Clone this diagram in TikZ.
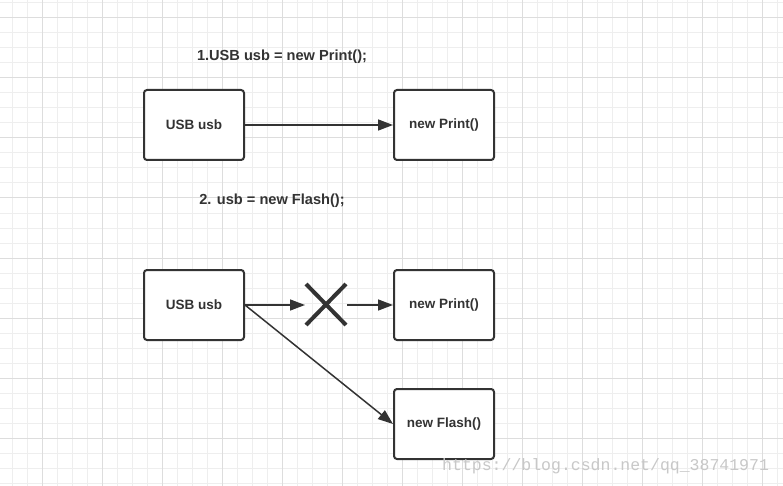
\documentclass[tikz,border=0pt]{standalone}
\usepackage{fontspec}
\setmainfont{Liberation Sans}
\setmonofont{Liberation Mono}
\usetikzlibrary{arrows.meta}
\definecolor{ink}{HTML}{333333}
\definecolor{gminor}{HTML}{EEEEEE}
\definecolor{gmajor}{HTML}{DDDDDD}
\definecolor{wm}{HTML}{C8C8C8}
\tikzset{
  box/.style={draw=ink, line width=2pt, rounded corners=3pt, minimum width=100pt, minimum height=70pt, inner sep=0pt, font=\fontsize{13.5}{16}\selectfont\bfseries, text=ink, fill=white},
  title/.style={font=\fontsize{14.6}{17}\selectfont\bfseries, text=ink, inner sep=0pt},
  conn/.style={draw=ink, line width=1.5pt, -{Triangle[length=15pt,width=11pt]}},
  cross/.style={draw=ink, line width=4pt}
}
\begin{document}
\begin{tikzpicture}[x=1pt,y=-1pt]
\useasboundingbox (0,0) rectangle (783,486);
\fill[white] (0,0) rectangle (783,486);
% grid
\foreach \x in {12,27,...,783} \draw[gminor, line width=1pt] (\x,0) -- (\x,486);
\foreach \y in {3,18,...,486} \draw[gminor, line width=1pt] (0,\y) -- (783,\y);
\foreach \x in {42,102,...,783} \draw[gmajor, line width=1pt] (\x,0) -- (\x,486);
\foreach \y in {18,78,...,486} \draw[gmajor, line width=1pt] (0,\y) -- (783,\y);
% titles
\node[title] (t1) at (282,57) {1.USB usb = new Print();};
\node[title] (t2) at (272,201) {2. usb = new Flash();};
% boxes
\node[box] (u1) at (194,125) {USB usb};
\node[box] (p1) at (444,125) {new Print()};
\node[box] (u2) at (194,305) {USB usb};
\node[box] (p2) at (444,305) {new Print()};
\node[box] (f2) at (444,424) {new Flash()};
% cross
\coordinate (xl) at (305,305);
\coordinate (xr) at (347,305);
\draw[cross] (306,284) -- (346,325);
\draw[cross] (346,284) -- (306,325);
% connectors
\draw[conn] (u1.east) -- (p1.west);
\draw[conn] (u2.east) -- (xl);
\draw[conn] (xr) -- (p2.west);
\draw[conn] (u2.east) -- (f2.west);
% watermark
\node[font=\fontsize{16.5}{18}\ttfamily, text=wm, anchor=west, inner sep=0pt] (wmk) at (442,466) {https://blog.csdn.net/qq\_38741971};
\end{tikzpicture}
\end{document}
